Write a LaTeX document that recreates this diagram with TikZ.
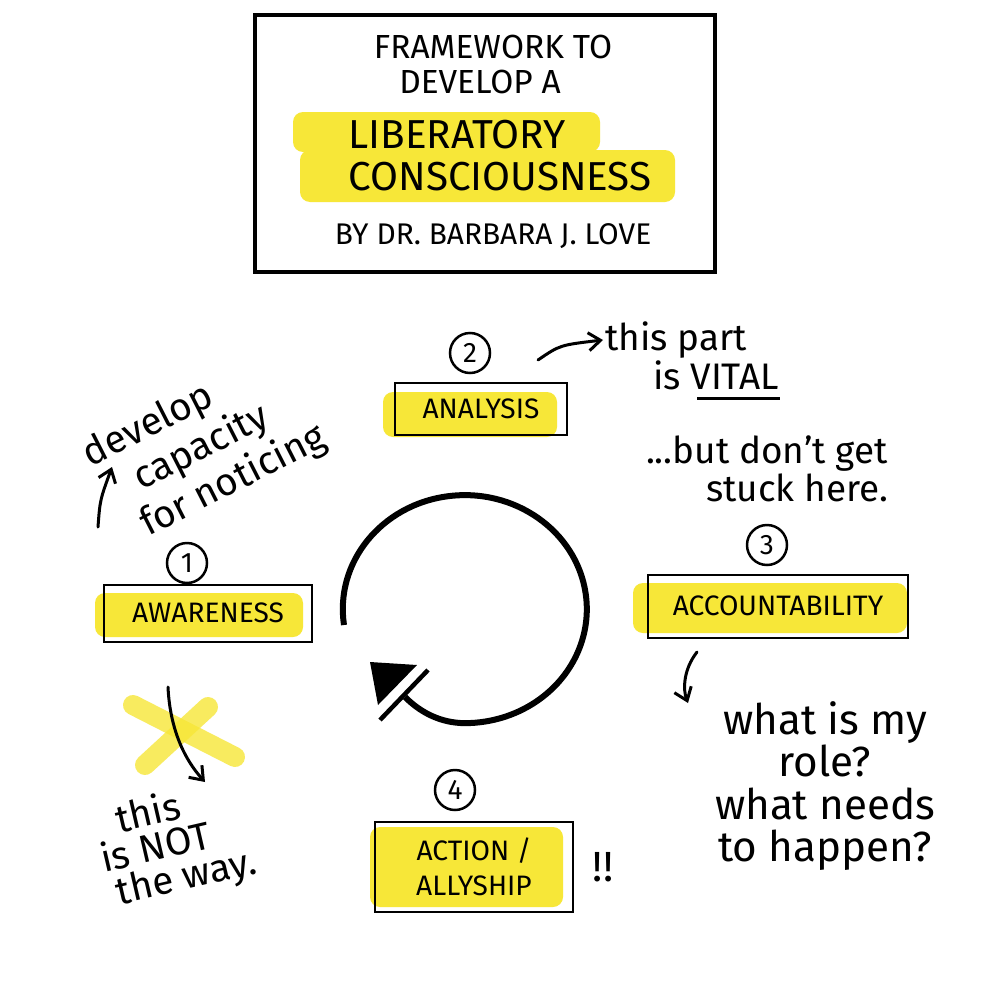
\documentclass[tikz,border=0pt]{standalone}
\usepackage{fontspec}
\setmainfont{Fira Sans}
\usetikzlibrary{arrows.meta}
\definecolor{hl}{RGB}{247,231,56}

\begin{document}
\begin{tikzpicture}[x=0.2mm, y=-0.2mm, >={Straight Barb[length=2.4mm,width=3.6mm]}, title/.style={font=\fontsize{19}{22}\selectfont, inner sep=1pt}, big/.style={font=\fontsize{23}{26}\selectfont, inner sep=1pt}, num/.style={draw, circle, line width=0.5mm, minimum size=8mm, inner sep=0pt, font=\fontsize{16}{16}\selectfont}, stepbox/.style={draw, line width=0.4mm, inner sep=0pt, font=\fontsize{16}{20}\selectfont, align=center}, hlbar/.style={fill=hl, rounded corners=2mm}, note/.style={font=\fontsize{21}{24}\selectfont, inner sep=1pt}, hand/.style={->, line width=0.6mm, line cap=round}]
	\useasboundingbox (0,0) rectangle (1000,1000);
	\fill[white] (0,0) rectangle (1000,1000);
	\draw[line width=0.8mm] (255,15) rectangle (715,272);
	\fill[hlbar] (293,112) rectangle (600,152);
	\fill[hlbar] (300,150) rectangle (675,202);
	\node[title] (t1) at (493,47) {FRAMEWORK TO};
	\node[title] (t2) at (480,82) {DEVELOP A};
	\node[big] (t3) at (457,135) {LIBERATORY};
	\node[big] (t4) at (500,177) {CONSCIOUSNESS};
	\node[title, font=\fontsize{17}{20}\selectfont] (t5) at (493,236) {BY DR. BARBARA J. LOVE};
	\fill[hlbar] (95,593) rectangle (303,637);
	\fill[hlbar] (383,392) rectangle (557,437);
	\fill[hlbar] (633,583) rectangle (907,633);
	\fill[hlbar] (370,827) rectangle (563,907);
	\node[stepbox, minimum width=41.4mm, minimum height=11.4mm] (aware) at (208,613) {AWARENESS};
	\node[stepbox, minimum width=34.4mm, minimum height=10.4mm] (analysis) at (481,409) {ANALYSIS};
	\node[stepbox, minimum width=52mm, minimum height=12.6mm] (account) at (778,606) {ACCOUNTABILITY};
	\node[stepbox, minimum width=39.6mm, minimum height=18mm] (action) at (474,867) {ACTION /\\ALLYSHIP};
	\foreach \n/\x/\y in {1/187/563, 2/470/353, 3/767/545, 4/455/790} {\node[num] (n\n) at (\x,\y) {\n};}
	\draw[line width=1.2mm] (344,625) arc[start angle=172, end angle=450, x radius=122, y radius=114] .. controls (440,723) and (420,712) .. (405,697);
	\fill (370,662) -- (417,665) -- (378,705) -- cycle;
	\draw[line width=0.9mm] (428,670) -- (380,720);
	\node[note, align=left, font=\fontsize{21}{19}\selectfont, anchor=north west] (part) at (603,320) {this part\\\hspace{1.3em}is VITAL};
	\draw[line width=0.6mm] (697,398) -- (780,398);
	\node[note, align=right, font=\fontsize{21}{19}\selectfont, anchor=north east] (stuck) at (890,434) {...but don't get\\stuck here.};
	\coordinate (a0) at (538,360);
	\draw[hand] (a0) .. controls (560,345) .. (part.west |- 0,340);
	\node[note, rotate=27, align=left, font=\fontsize{22}{25}\selectfont] (notice) at (205,447) {develop\\\hspace{0.9em}capacity\\\hspace{0.5em}for noticing};
	\coordinate (d0) at (98,527);
	\coordinate (d1) at (112,467);
	\draw[hand] (d0) .. controls (100,500) .. (d1);
	\draw[hl, line width=4mm, line cap=round, opacity=0.8] (133,705) -- (235,757);
	\draw[hl, line width=4mm, line cap=round, opacity=0.8] (208,707) -- (145,765);
	\coordinate (x0) at (168,687);
	\coordinate (x1) at (205,782);
	\draw[hand] (x0) .. controls (170,730) and (185,760) .. (x1);
	\node[note, rotate=13, align=left, font=\fontsize{22}{20}\selectfont] (way) at (175,845) {\hspace{0.6em}this\\is NOT\\\hspace{0.2em}the way.};
	\coordinate (c0) at (697,652);
	\coordinate (c1) at (688,703);
	\draw[hand] (c0) .. controls (683,670) and (683,690) .. (c1);
	\node[note, align=center, font=\fontsize{24}{24}\selectfont] (role) at (825,786) {what is my\\role?\\what needs\\to happen?};
	\node[note, font=\fontsize{24}{24}\selectfont] (bang) at (603,867) {!!};
\end{tikzpicture}
\end{document}
